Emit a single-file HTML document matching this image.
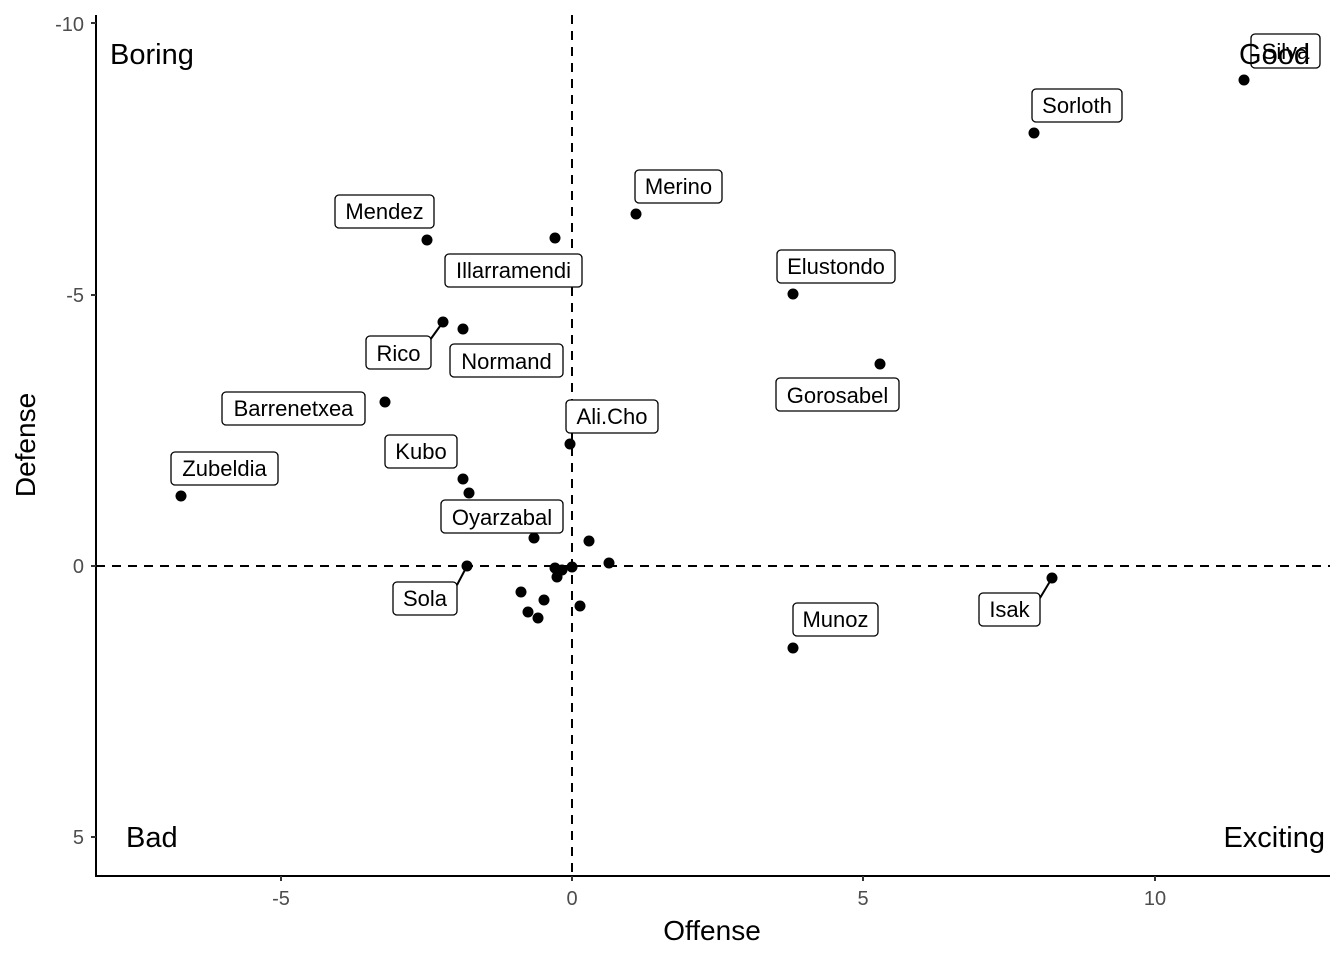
<!DOCTYPE html>
<html><head><meta charset="utf-8"><style>html,body{margin:0;padding:0;background:#fff}</style></head><body>
<svg width="1344" height="960" xmlns="http://www.w3.org/2000/svg" font-family="Liberation Sans, Arial, sans-serif">
<rect width="1344" height="960" fill="#fff"/>
<line x1="572" y1="15" x2="572" y2="876" stroke="#000" stroke-width="2" stroke-dasharray="9,7"/>
<line x1="96" y1="566" x2="1330" y2="566" stroke="#000" stroke-width="2" stroke-dasharray="9,7"/>
<line x1="96" y1="15" x2="96" y2="876" stroke="#000" stroke-width="2"/>
<line x1="95" y1="876" x2="1330" y2="876" stroke="#000" stroke-width="2"/>
<g stroke="#333" stroke-width="2">
<line x1="91" y1="23" x2="96" y2="23"/><line x1="91" y1="295" x2="96" y2="295"/><line x1="91" y1="566" x2="96" y2="566"/><line x1="91" y1="837" x2="96" y2="837"/>
<line x1="281" y1="876" x2="281" y2="881"/><line x1="572" y1="876" x2="572" y2="881"/><line x1="863" y1="876" x2="863" y2="881"/><line x1="1155" y1="876" x2="1155" y2="881"/>
</g>
<g fill="#4d4d4d" font-size="20">
<text x="84" y="31" text-anchor="end">-10</text><text x="84" y="302" text-anchor="end">-5</text><text x="84" y="573" text-anchor="end">0</text><text x="84" y="844" text-anchor="end">5</text>
<text x="281" y="905" text-anchor="middle">-5</text><text x="572" y="905" text-anchor="middle">0</text><text x="863" y="905" text-anchor="middle">5</text><text x="1155" y="905" text-anchor="middle">10</text>
</g>
<text x="712" y="940" font-size="28" text-anchor="middle">Offense</text>
<text transform="translate(35,445) rotate(-90)" font-size="28" text-anchor="middle">Defense</text>
<g stroke="#000" stroke-width="2"><line x1="443" y1="322" x2="430" y2="340"/><line x1="467" y1="566" x2="457" y2="585"/><line x1="1052" y1="578" x2="1040" y2="598"/></g>
<g fill="#000">
<circle cx="1244" cy="80" r="5.5"/><circle cx="1034" cy="133" r="5.5"/><circle cx="636" cy="214" r="5.5"/><circle cx="427" cy="240" r="5.5"/><circle cx="555" cy="238" r="5.5"/><circle cx="793" cy="294" r="5.5"/><circle cx="443" cy="322" r="5.5"/><circle cx="463" cy="329" r="5.5"/><circle cx="880" cy="364" r="5.5"/><circle cx="385" cy="402" r="5.5"/><circle cx="570" cy="444" r="5.5"/><circle cx="463" cy="479" r="5.5"/><circle cx="469" cy="493" r="5.5"/><circle cx="181" cy="496" r="5.5"/><circle cx="534" cy="538" r="5.5"/><circle cx="589" cy="541" r="5.5"/><circle cx="609" cy="563" r="5.5"/><circle cx="572" cy="567" r="5.5"/><circle cx="555" cy="568" r="5.5"/><circle cx="558" cy="572" r="5.5"/><circle cx="562" cy="570" r="5.5"/><circle cx="557" cy="577" r="5.5"/><circle cx="467" cy="566" r="5.5"/><circle cx="521" cy="592" r="5.5"/><circle cx="544" cy="600" r="5.5"/><circle cx="580" cy="606" r="5.5"/><circle cx="528" cy="612" r="5.5"/><circle cx="538" cy="618" r="5.5"/><circle cx="793" cy="648" r="5.5"/><circle cx="1052" cy="578" r="5.5"/>
</g>
<g font-size="22" stroke-width="1.3">
<g><rect x="1251" y="34" width="69" height="34" rx="4" fill="#fff" stroke="#000"/><text x="1285.5" y="59" text-anchor="middle">Silva</text></g>
<g><rect x="1032" y="89" width="90" height="33" rx="4" fill="#fff" stroke="#000"/><text x="1077" y="113" text-anchor="middle">Sorloth</text></g>
<g><rect x="635" y="170" width="87" height="33" rx="4" fill="#fff" stroke="#000"/><text x="678.5" y="194" text-anchor="middle">Merino</text></g>
<g><rect x="335" y="195" width="99" height="33" rx="4" fill="#fff" stroke="#000"/><text x="384.5" y="219" text-anchor="middle">Mendez</text></g>
<g><rect x="445" y="254" width="137" height="33" rx="4" fill="#fff" stroke="#000"/><text x="513.5" y="278" text-anchor="middle">Illarramendi</text></g>
<g><rect x="777" y="250" width="118" height="33" rx="4" fill="#fff" stroke="#000"/><text x="836" y="274" text-anchor="middle">Elustondo</text></g>
<g><rect x="366" y="336" width="65" height="33" rx="4" fill="#fff" stroke="#000"/><text x="398.5" y="361" text-anchor="middle">Rico</text></g>
<g><rect x="450" y="344" width="113" height="33" rx="4" fill="#fff" stroke="#000"/><text x="506.5" y="369" text-anchor="middle">Normand</text></g>
<g><rect x="776" y="378" width="123" height="33" rx="4" fill="#fff" stroke="#000"/><text x="837.5" y="403" text-anchor="middle">Gorosabel</text></g>
<g><rect x="222" y="392" width="143" height="33" rx="4" fill="#fff" stroke="#000"/><text x="293.5" y="416" text-anchor="middle">Barrenetxea</text></g>
<g><rect x="566" y="400" width="92" height="33" rx="4" fill="#fff" stroke="#000"/><text x="612" y="424" text-anchor="middle">Ali.Cho</text></g>
<g><rect x="385" y="435" width="72" height="33" rx="4" fill="#fff" stroke="#000"/><text x="421" y="459" text-anchor="middle">Kubo</text></g>
<g><rect x="171" y="452" width="107" height="33" rx="4" fill="#fff" stroke="#000"/><text x="224.5" y="476" text-anchor="middle">Zubeldia</text></g>
<g><rect x="441" y="500" width="122" height="33" rx="4" fill="#fff" stroke="#000"/><text x="502" y="525" text-anchor="middle">Oyarzabal</text></g>
<g><rect x="393" y="582" width="64" height="33" rx="4" fill="#fff" stroke="#000"/><text x="425" y="606" text-anchor="middle">Sola</text></g>
<g><rect x="793" y="603" width="85" height="33" rx="4" fill="#fff" stroke="#000"/><text x="835.5" y="627" text-anchor="middle">Munoz</text></g>
<g><rect x="979" y="593" width="61" height="33" rx="4" fill="#fff" stroke="#000"/><text x="1009.5" y="617" text-anchor="middle">Isak</text></g>
</g>
<g font-size="29">
<text x="110" y="64">Boring</text>
<text x="1310" y="64" text-anchor="end">Good</text>
<text x="126" y="847">Bad</text>
<text x="1325" y="847" text-anchor="end">Exciting</text>
</g>
</svg>
</body></html>
